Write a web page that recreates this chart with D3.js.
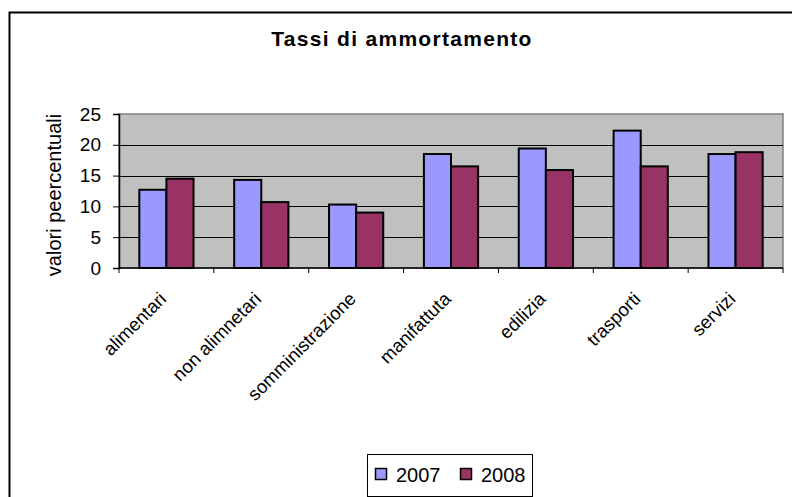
<!DOCTYPE html>
<html>
<head>
<meta charset="utf-8">
<script src="https://cdn.jsdelivr.net/npm/d3@7"></script>
<style>
  body { margin: 0; background: #fff; }
  svg { display: block; font-family: "Liberation Sans", Arial, sans-serif; }
</style>
</head>
<body>
<div class="canvas"></div>
<script>
// Data
const categories = ['alimentari', 'non alimnetari', 'somministrazione', 'manifattuta', 'edilizia', 'trasporti', 'servizi'];
const series = ['2007', '2008'];
const values2007 = [12.7, 14.3, 10.3, 18.5, 19.4, 22.3, 18.5];
const values2008 = [14.5, 10.7, 9.0, 16.5, 15.9, 16.5, 18.8];
const yTicks = [0, 5, 10, 15, 20, 25];
const colors = ['#9999ff', '#993366'];

const width = 792, height = 497;
const plot = { left: 119, top: 114, right: 783, bottom: 268 };

const svg = d3.select('.canvas')
    .append('svg')
    .attr('width', width)
    .attr('height', height);

// outer chart border (right/bottom run off the page)
svg.append('rect')
    .attr('x', 9.5).attr('y', 12.5)
    .attr('width', width + 20).attr('height', height + 20)
    .attr('fill', 'none')
    .attr('stroke', '#000')
    .attr('stroke-width', 2);

svg.append('text')
    .attr('x', 402).attr('y', 46)
    .attr('text-anchor', 'middle')
    .style('font-size', '21px')
    .style('font-weight', 'bold')
    .style('letter-spacing', '1.3px')
    .text('Tassi di ammortamento');

const x0 = d3.scaleBand()
    .domain(categories)
    .range([plot.left, plot.right]);

const x1 = d3.scaleBand()
    .domain(series)
    .range([0, x0.bandwidth()])
    .paddingInner(0)
    .paddingOuter(0.75);

const y = d3.scaleLinear()
    .domain([0, 25])
    .range([plot.bottom, plot.top]);

// plot background
svg.append('rect')
    .attr('x', plot.left).attr('y', plot.top)
    .attr('width', plot.right - plot.left)
    .attr('height', plot.bottom - plot.top)
    .attr('fill', '#c0c0c0')
    .attr('stroke', '#808080')
    .attr('stroke-width', 1.5);

// gridlines
svg.append('g')
    .selectAll('line')
    .data(yTicks.filter(d => d > 0 && d < 25))
    .join('line')
    .attr('x1', plot.left).attr('x2', plot.right)
    .attr('y1', d => Math.round(y(d)) + 0.5)
    .attr('y2', d => Math.round(y(d)) + 0.5)
    .attr('stroke', '#000')
    .attr('stroke-width', 1);

// bars
const rows = categories.map((c, i) => ({ cat: c, vals: [values2007[i], values2008[i]] }));
svg.append('g')
    .selectAll('g')
    .data(rows)
    .join('g')
    .attr('transform', d => `translate(${x0(d.cat)},0)`)
    .selectAll('rect')
    .data(d => d.vals.map((v, j) => ({ key: series[j], v: v, j: j })))
    .join('rect')
    .attr('x', d => x1(d.key))
    .attr('y', d => y(d.v))
    .attr('width', x1.bandwidth())
    .attr('height', d => y(0) - y(d.v))
    .attr('fill', d => colors[d.j])
    .attr('stroke', '#000')
    .attr('stroke-width', 2);

// y axis
const yAxis = svg.append('g')
    .attr('transform', `translate(${plot.left},0)`)
    .call(d3.axisLeft(y).tickValues(yTicks).tickSize(6).tickPadding(12));
yAxis.select('.domain').attr('stroke', '#000').attr('stroke-width', 1.5);
yAxis.selectAll('text').style('font-size', '19px').attr('fill', '#000');

// x axis
const xAxis = svg.append('g')
    .attr('transform', `translate(0,${plot.bottom})`);
xAxis.append('line')
    .attr('x1', plot.left).attr('x2', plot.right)
    .attr('stroke', '#000').attr('stroke-width', 1.5);
xAxis.selectAll('line.tick')
    .data(categories.concat(['end']))
    .join('line')
    .attr('class', 'tick')
    .attr('x1', (d, i) => i < categories.length ? x0(d) : plot.right)
    .attr('x2', (d, i) => i < categories.length ? x0(d) : plot.right)
    .attr('y1', 0).attr('y2', 5)
    .attr('stroke', '#000');
xAxis.selectAll('text')
    .data(categories)
    .join('text')
    .attr('transform', d => `translate(${x0(d) + x0.bandwidth() / 2 + 1},${32}) rotate(-45)`)
    .attr('text-anchor', 'end')
    .style('font-size', '18.5px')
    .text(d => d);

// y axis title
svg.append('text')
    .attr('transform', `translate(61,${195}) rotate(-90)`)
    .attr('text-anchor', 'middle')
    .style('font-size', '20px')
    .text('valori peercentuali');

// legend
const legend = svg.append('g');
legend.append('rect')
    .attr('x', 367.5).attr('y', 454.5)
    .attr('width', 165).attr('height', 42)
    .attr('fill', '#fff')
    .attr('stroke', '#000');
const items = legend.selectAll('g')
    .data(series)
    .join('g')
    .attr('transform', (d, i) => `translate(${375 + i * 85},0)`);
items.append('rect')
    .attr('x', 0.5).attr('y', 468.5)
    .attr('width', 11).attr('height', 11)
    .attr('fill', (d, i) => colors[i])
    .attr('stroke', '#000')
    .attr('stroke-width', 1.5);
items.append('text')
    .attr('x', 21).attr('y', 482)
    .style('font-size', '20px')
    .text(d => d);
</script>
</body>
</html>
